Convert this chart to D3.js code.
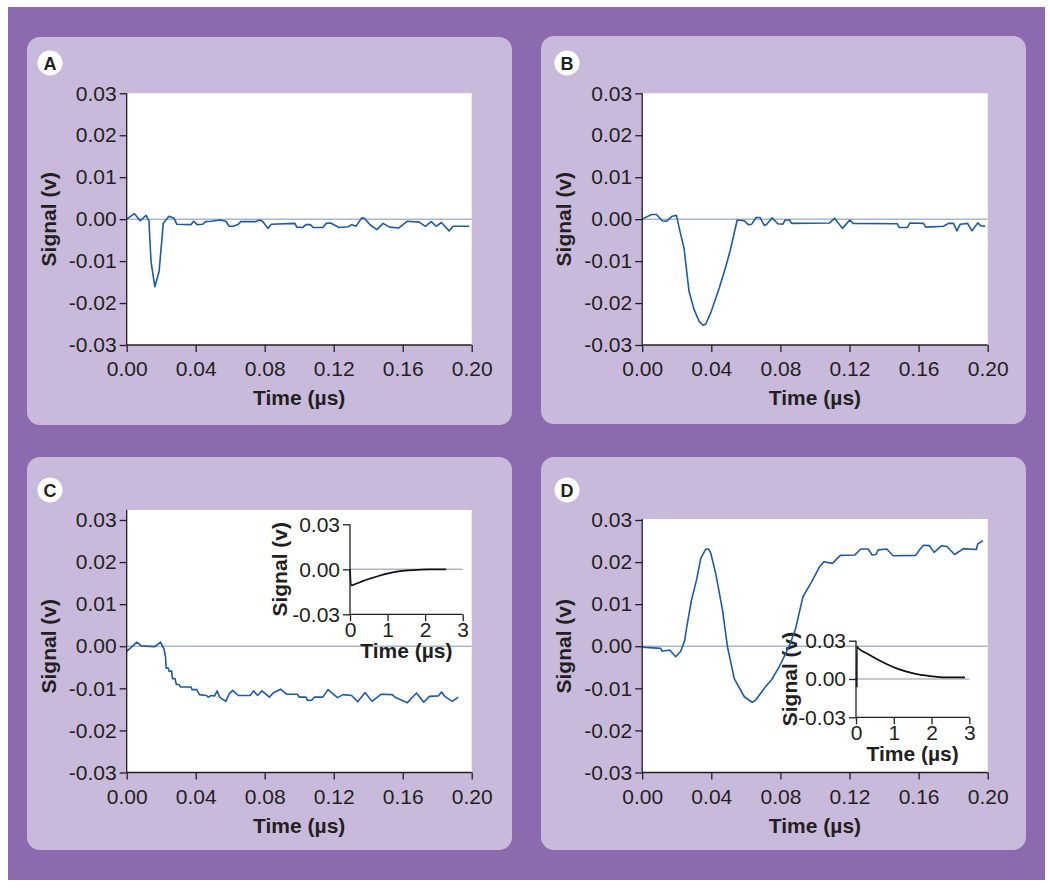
<!doctype html>
<html lang="en">
<head>
<meta charset="utf-8">
<title>Signal traces A-D</title>
<script src="https://cdn.jsdelivr.net/npm/d3@7"></script>
<style>
  body { margin: 0; background: #fff; }
  svg text { font-family: "Liberation Sans", Arial, Helvetica, sans-serif; fill: #231f20; }
</style>
</head>
<body>
<script>
// ---- data: [time (us), signal (v)] ----
var traceA = [[0,0],[0.0045,0.0013],[0.0078,-0.0004],[0.0112,0.0009],[0.0129,-0.0004],[0.0141,-0.0101],[0.0163,-0.0161],[0.0188,-0.0124],[0.0212,-0.001],[0.0245,0.0007],[0.0275,0.0002],[0.029,-0.0012],[0.0373,-0.0013],[0.0388,-0.0005],[0.0408,-0.0013],[0.0441,-0.0012],[0.0457,-0.0006],[0.049,-0.0005],[0.0543,-0.0002],[0.0575,-0.0005],[0.0594,-0.0017],[0.0618,-0.0017],[0.0647,-0.0012],[0.0661,-0.0006],[0.0745,-0.0006],[0.0771,-0.0002],[0.079,-0.0006],[0.0818,-0.0022],[0.0839,-0.0012],[0.0975,-0.001],[0.0986,-0.0019],[0.102,-0.002],[0.1039,-0.0013],[0.1065,-0.0013],[0.108,-0.002],[0.1137,-0.002],[0.1157,-0.001],[0.1182,-0.0009],[0.1231,-0.002],[0.1284,-0.0018],[0.1304,-0.0013],[0.1329,-0.0017],[0.1363,0.0003],[0.1378,0.0002],[0.1412,-0.0014],[0.1451,-0.0025],[0.1486,-0.001],[0.1524,-0.0019],[0.1578,-0.0021],[0.1627,-0.0005],[0.1696,-0.0007],[0.1731,-0.0017],[0.1765,-0.0006],[0.1794,-0.0017],[0.1824,-0.0008],[0.1869,-0.0028],[0.1892,-0.0017],[0.1986,-0.0017]];

var traceB = [[0,0],[0.0054,0.0011],[0.0083,0.0011],[0.0116,-0.0004],[0.0141,-0.0005],[0.0174,0.0007],[0.0198,0.0009],[0.0217,-0.0026],[0.0242,-0.0069],[0.0271,-0.0172],[0.03,-0.0215],[0.0329,-0.0243],[0.0353,-0.0253],[0.0368,-0.025],[0.0399,-0.0221],[0.0446,-0.0164],[0.0484,-0.0113],[0.0508,-0.0077],[0.055,-0.0002],[0.0591,-0.0004],[0.0614,-0.0013],[0.0634,-0.0012],[0.0659,0.0004],[0.0682,0.0004],[0.0707,-0.0015],[0.0721,-0.0012],[0.0752,0.0003],[0.0785,-0.0011],[0.0814,-0.0012],[0.0828,-0.0002],[0.0853,-0.0002],[0.0866,-0.001],[0.1085,-0.0009],[0.1114,0.0002],[0.1159,-0.0022],[0.1202,-0.0002],[0.1221,-0.001],[0.1477,-0.0011],[0.1488,-0.002],[0.1535,-0.002],[0.155,-0.0009],[0.1628,-0.001],[0.1641,-0.0019],[0.1744,-0.0017],[0.1773,-0.001],[0.1802,-0.001],[0.1822,-0.0028],[0.1841,-0.0012],[0.1884,-0.001],[0.1909,-0.0028],[0.1942,-0.0009],[0.1961,-0.0016],[0.1986,-0.0017]];

var traceC = [[0,-0.0012],[0.0059,0.001],[0.0084,0.0001],[0.0163,-0.0001],[0.0196,0.001],[0.0216,-0.0006],[0.0225,-0.0025],[0.0229,-0.0052],[0.0241,-0.0052],[0.0245,-0.0059],[0.0261,-0.0059],[0.0265,-0.0077],[0.028,-0.0077],[0.0288,-0.0091],[0.0304,-0.0091],[0.0312,-0.0097],[0.0373,-0.0097],[0.0378,-0.0103],[0.0406,-0.0103],[0.0422,-0.0115],[0.0461,-0.0117],[0.0473,-0.0121],[0.049,-0.0117],[0.051,-0.0118],[0.0524,-0.0106],[0.0539,-0.0121],[0.0575,-0.0131],[0.0594,-0.0113],[0.0614,-0.0105],[0.0647,-0.0117],[0.0716,-0.0117],[0.0735,-0.0106],[0.0759,-0.0117],[0.0784,-0.0106],[0.0827,-0.0121],[0.0849,-0.0111],[0.0892,-0.0102],[0.0927,-0.0114],[0.099,-0.0114],[0.1,-0.0121],[0.1039,-0.0121],[0.1049,-0.0129],[0.1073,-0.0128],[0.1088,-0.0121],[0.1137,-0.0121],[0.1167,-0.0103],[0.1222,-0.0122],[0.1255,-0.0115],[0.1304,-0.0117],[0.1339,-0.0132],[0.1382,-0.011],[0.1422,-0.0131],[0.1476,-0.0114],[0.1539,-0.0115],[0.1559,-0.0122],[0.1627,-0.0134],[0.168,-0.0111],[0.1722,-0.0133],[0.1755,-0.0119],[0.1806,-0.0118],[0.1825,-0.0109],[0.1849,-0.0121],[0.1888,-0.0131],[0.1922,-0.0121]];

var traceD = [[0,-0.0002],[0.0107,-0.0005],[0.0116,-0.0012],[0.0159,-0.0009],[0.0194,-0.0025],[0.0223,-0.0012],[0.0246,0.0014],[0.0258,0.0046],[0.0285,0.0109],[0.0316,0.016],[0.0339,0.0209],[0.0368,0.0231],[0.0384,0.0231],[0.0397,0.0221],[0.0426,0.0172],[0.0465,0.0085],[0.0494,-0.0002],[0.0533,-0.0077],[0.0591,-0.012],[0.0636,-0.0133],[0.0655,-0.0129],[0.0707,-0.01],[0.075,-0.0079],[0.0795,-0.0047],[0.0853,0.0002],[0.0888,0.0042],[0.093,0.0117],[0.0979,0.0152],[0.1027,0.0189],[0.1052,0.0201],[0.1101,0.0197],[0.1147,0.0216],[0.1231,0.0217],[0.1266,0.0231],[0.1308,0.0231],[0.1331,0.0217],[0.1353,0.0218],[0.1366,0.0229],[0.1415,0.0231],[0.1453,0.0215],[0.1583,0.0216],[0.1609,0.0231],[0.1628,0.024],[0.1663,0.0239],[0.169,0.0223],[0.1734,0.0239],[0.1764,0.0237],[0.1808,0.0218],[0.186,0.0232],[0.1934,0.023],[0.1942,0.0243],[0.1973,0.0251]];

// long time-scale insets
var insetC = [[0,0],[0.027,-0.0108],[0.178,-0.0095],[0.355,-0.0077],[0.577,-0.0059],[0.8,-0.0041],[1.02,-0.0027],[1.24,-0.0016],[1.46,-0.0009],[1.69,-0.0005],[2.13,-0.0001],[2.56,0]];
var insetD = [[0.02,-0.0065],[0.022,0.0255],[0.05,0.0245],[0.28,0.0201],[0.635,0.0143],[1.076,0.0083],[1.518,0.0044],[1.959,0.0023],[2.4,0.0013],[2.885,0.0013]];

var xTicks = [0, 0.04, 0.08, 0.12, 0.16, 0.20];
var yTicks = [0.03, 0.02, 0.01, 0, -0.01, -0.02, -0.03];
var insetXTicks = [0, 1, 2, 3];
var insetYTicks = [0.03, 0, -0.03];
var panelLetters = ["A", "B", "C", "D"];

var PURPLE = "#8b6bad", CARD = "#c9badc", BLUE = "#1d5ba6", ZERO = "#a8b8ca";

var svg = d3.select("body").append("svg")
    .attr("width", 1050).attr("height", 891);

svg.append("rect").attr("x", 8).attr("y", 7).attr("width", 1037).attr("height", 873).attr("fill", PURPLE);

// layout of each panel (pixels)
var panels = [
  {card: [27, 37, 485, 388], circle: [50, 63], px: [126.7, 471.7], py: [93.3, 345], top: 93.3, data: traceA},
  {card: [541, 36, 485, 388], circle: [567, 63], px: [642.2, 987.7], py: [93.3, 345], top: 93.3, data: traceB},
  {card: [27, 457, 485, 393], circle: [50, 490], px: [126.7, 471.7], py: [520, 772.5], top: 510, data: traceC,
     inset: {px: [350, 462.7], py: [524.3, 614.3], data: insetC, labelX: 63}},
  {card: [541, 457, 485, 393], circle: [567, 490], px: [642.2, 987.7], py: [520, 772.5], top: 519, data: traceD,
     inset: {px: [856, 969.3], py: [640.7, 717.3], data: insetD, labelX: 59}}
];

function fmt2(d) { return d.toFixed(2); }

function styleAxis(g, size) {
  g.select(".domain").remove();
  g.selectAll(".tick line").attr("stroke", "#231f20").attr("stroke-width", 1.3);
  g.selectAll(".tick text").attr("font-size", size).attr("fill", "#231f20")
    .style("font-family", "'Liberation Sans', Arial, sans-serif");
}

function drawAxes(g, x, y, xt, yt, xfmt, yfmt, topY, xOff, yOff, labelX, big) {
  var x0 = x.range()[0], x1 = x.range()[1], yb = y.range()[0];
  var xa = g.append("g").attr("transform", "translate(0," + yb + ")")
      .call(d3.axisBottom(x).tickValues(xt).tickFormat(xfmt).tickSize(7).tickSizeOuter(0).tickPadding(6));
  styleAxis(xa, "21px");
  xa.selectAll(".tick text").attr("dy", null).attr("y", xOff);
  var ya = g.append("g").attr("transform", "translate(" + x0 + ",0)")
      .call(d3.axisLeft(y).tickValues(yt).tickFormat(yfmt).tickSize(7).tickSizeOuter(0).tickPadding(3));
  styleAxis(ya, "21px");
  // axis lines
  g.append("line").attr("x1", x0).attr("x2", x0).attr("y1", topY).attr("y2", yb)
    .attr("stroke", "#231f20").attr("stroke-width", 1.3);
  g.append("line").attr("x1", x0).attr("x2", x1).attr("y1", yb).attr("y2", yb)
    .attr("stroke", "#231f20").attr("stroke-width", 1.3);
  g.append("text").attr("x", (x0 + x1) / 2).attr("y", yb + yOff)
    .attr("text-anchor", "middle").attr("font-size", "21px").attr("font-weight", "bold")
    .text("Time (\u00b5s)");
  var yc = (y.range()[0] + y.range()[1]) / 2;
  g.append("text").attr("transform", "translate(" + (x0 - labelX) + "," + yc + ") rotate(-90)")
    .attr("text-anchor", "middle").attr("font-size", "21px").attr("font-weight", "bold")
    .text("Signal (v)");
}

panels.forEach(function(p, i) {
  var g = svg.append("g");
  g.append("rect").attr("x", p.card[0]).attr("y", p.card[1])
    .attr("width", p.card[2]).attr("height", p.card[3]).attr("rx", 13).attr("fill", CARD);

  g.append("circle").attr("cx", p.circle[0]).attr("cy", p.circle[1]).attr("r", 12.5).attr("fill", "#fff");
  g.append("text").attr("x", p.circle[0]).attr("y", p.circle[1] + 6.5)
    .attr("text-anchor", "middle").attr("font-size", "18px").attr("font-weight", "bold")
    .text(panelLetters[i]);

  var x = d3.scaleLinear().domain([0, 0.2]).range(p.px);
  var y = d3.scaleLinear().domain([-0.03, 0.03]).range([p.py[1], p.py[0]]);

  g.append("rect").attr("x", p.px[0]).attr("y", p.top)
    .attr("width", p.px[1] - p.px[0]).attr("height", p.py[1] - p.top).attr("fill", "#fff");

  g.append("line").attr("x1", x(0)).attr("x2", x(0.2)).attr("y1", y(0)).attr("y2", y(0))
    .attr("stroke", ZERO).attr("stroke-width", 1.5);

  if (p.inset) {
    var ix = d3.scaleLinear().domain([0, 3]).range(p.inset.px);
    var iy = d3.scaleLinear().domain([-0.03, 0.03]).range([p.inset.py[1], p.inset.py[0]]);
    g.append("line").attr("x1", ix(0)).attr("x2", ix(3)).attr("y1", iy(0)).attr("y2", iy(0))
      .attr("stroke", ZERO).attr("stroke-width", 1.5);
    g.append("path").datum(p.inset.data)
      .attr("fill", "none").attr("stroke", "#111").attr("stroke-width", 1.7)
      .attr("d", d3.line().x(function(d) { return ix(d[0]); }).y(function(d) { return iy(d[1]); })
        .curve(d3.curveMonotoneX));
    drawAxes(g, ix, iy, insetXTicks, insetYTicks, d3.format("d"), fmt2,
      p.inset.py[0], 23, 44, p.inset.labelX);
  }

  g.append("path").datum(p.data)
    .attr("fill", "none").attr("stroke", BLUE).attr("stroke-width", 1.6).attr("stroke-linejoin", "round")
    .attr("d", d3.line().x(function(d) { return x(d[0]); }).y(function(d) { return y(d[1]); }));

  drawAxes(g, x, y, xTicks, yTicks, fmt2, fmt2, p.top, 31, 60, 71);
});
</script>
</body>
</html>
